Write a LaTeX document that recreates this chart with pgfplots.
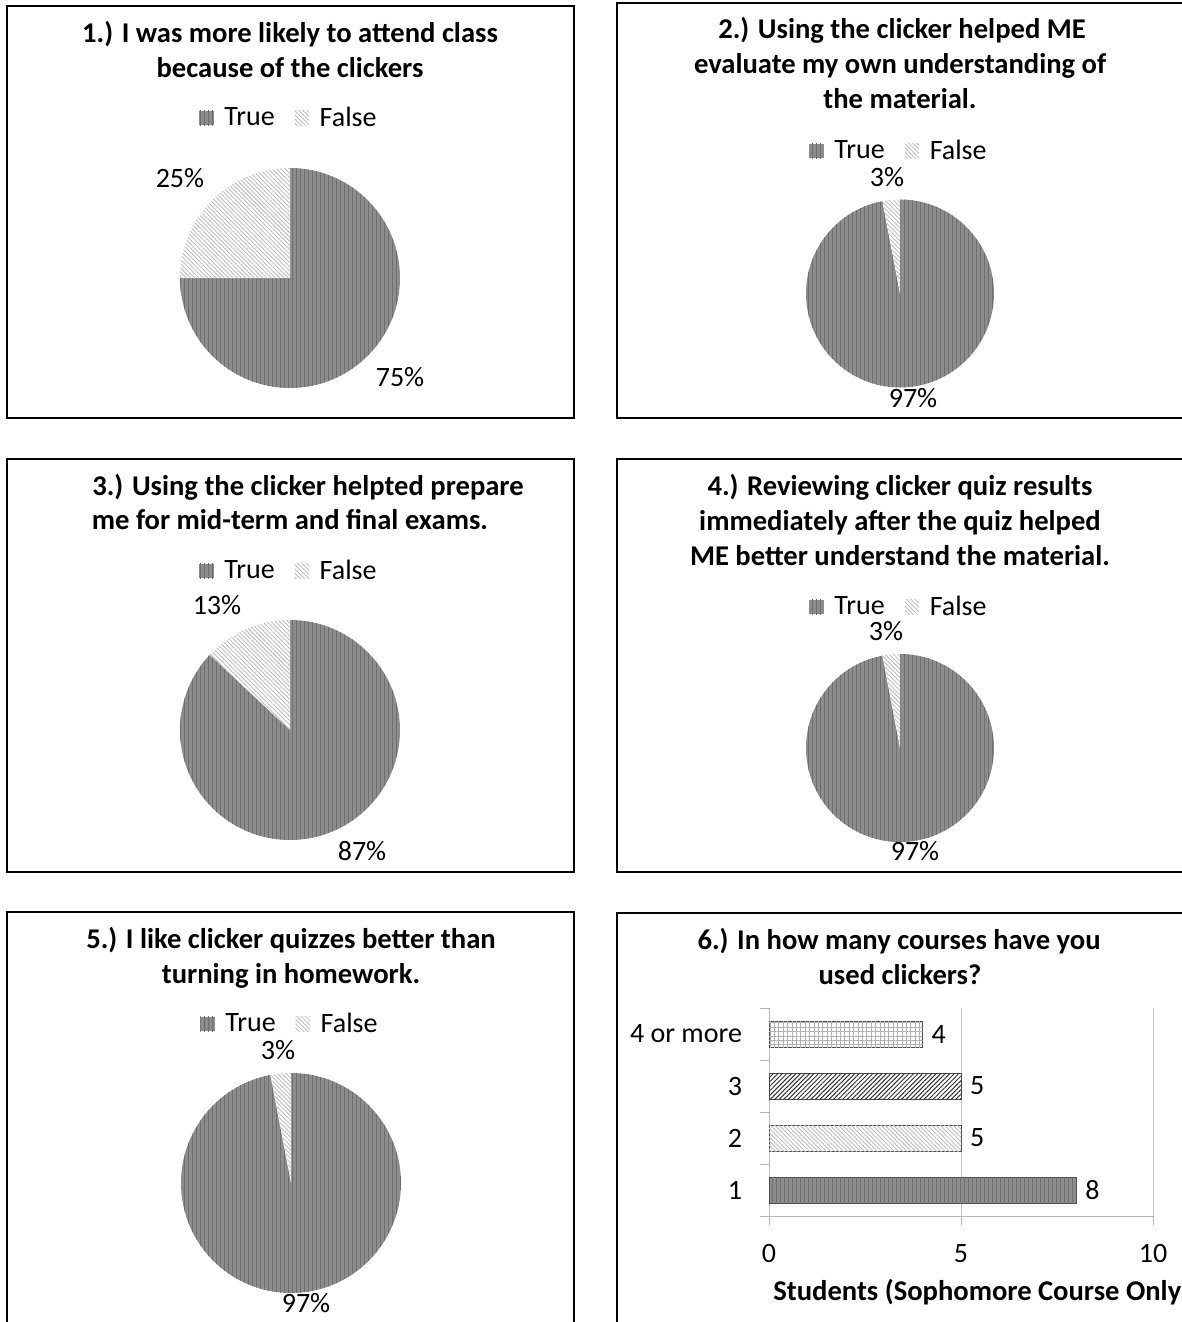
\documentclass[border=0pt]{standalone}
\usepackage{fontspec}
\setmainfont{Carlito}
\usepackage{pgfplots}
\pgfplotsset{compat=1.18}
\usetikzlibrary{patterns.meta}
\definecolor{truefill}{gray}{0.55}
\definecolor{truestripe}{gray}{0.43}
\definecolor{baredge}{gray}{0.3}
\tikzset{
 truesty/.style={fill=truefill, postaction={draw=none, pattern={Lines[angle=90,distance=2pt,line width=0.5pt]}, pattern color=truestripe}},
 falsesty/.style={fill=white, postaction={draw=none, pattern={Lines[angle=-45,distance=1.5pt,line width=0.45pt]}, pattern color=gray!50}},
 frame/.style={line width=1.1pt, black},
 ttl/.style={font=\fontsize{14.3}{17}\selectfont\bfseries, inner sep=0pt, text height=10pt, text depth=3pt},
 lbl/.style={font=\fontsize{14}{16}\selectfont, inner sep=0pt, text height=10pt, text depth=3pt},
}
% #1 cx, #2 cy (pt, y negative), #3 radius (pt), #4 diameter (pt), #5 true %, #6 false %, #7 legend y (axis description)
\newcommand\pieaxis[7]{%
\begin{axis}[hide axis, scale only axis, width=#4pt, height=#4pt,
  xmin=-1, xmax=1, ymin=-1, ymax=1, at={(#1pt,#2pt)}, anchor=center, clip=false,
  legend columns=2,
  legend style={at={(axis description cs:0.5,#7)}, anchor=center, draw=none, fill=none,
    font=\fontsize{14}{16}\selectfont, /tikz/every even column/.append style={column sep=8pt}},
  ]
  \addlegendimage{legend image code/.code={\path[draw=none,truesty] (0pt,-3.6pt) rectangle (7.2pt,3.6pt); \path[draw=none,fill=none] (0pt,0pt) -- (10.5pt,0pt);}}
  \addlegendentry{True}
  \addlegendimage{legend image code/.code={\path[draw=none,falsesty] (0pt,-3.6pt) rectangle (7.2pt,3.6pt); \path[draw=none,fill=none] (0pt,0pt) -- (10.5pt,0pt);}}
  \addlegendentry{False}
  \fill[truesty] (axis cs:0,0) -- ++(90:#3pt) arc[start angle=90, end angle={90-3.6*#5}, radius=#3pt] -- cycle;
  \fill[falsesty] (axis cs:0,0) -- ++(90:#3pt) arc[start angle=90, end angle={90+3.6*#6}, radius=#3pt] -- cycle;
\end{axis}}
\begin{document}
\begin{tikzpicture}
\path[use as bounding box] (0,0) rectangle (591pt,-661pt);
% frames
\draw[frame] (3.5pt,-3pt) rectangle (287pt,-209pt);
\draw[frame] (308.5pt,-1.5pt) rectangle (596pt,-209pt);
\draw[frame] (3.5pt,-229.5pt) rectangle (287pt,-436pt);
\draw[frame] (308.5pt,-229.5pt) rectangle (596pt,-436pt);
\draw[frame] (3.5pt,-456pt) rectangle (287pt,-666pt);
\draw[frame] (308.5pt,-456.5pt) rectangle (596pt,-666pt);

% Panel 1
\node[ttl] at (145pt,-18pt) {1.) I was more likely to attend class};
\node[ttl] at (145pt,-35.5pt) {because of the clickers};
\pieaxis{145}{-139}{55}{110}{75}{25}{1.227}
\node[lbl] at (90pt,-90pt) {25\%};
\node[lbl] at (200pt,-189.5pt) {75\%};

% Panel 2
\node[ttl] at (451pt,-16pt) {2.) Using the clicker helped ME};
\node[ttl] at (450pt,-33.5pt) {evaluate my own understanding of};
\node[ttl] at (450pt,-51pt) {the material.};
\pieaxis{450}{-146.75}{47}{94}{97}{3}{1.258}
\node[lbl] at (443.5pt,-89.5pt) {3\%};
\node[lbl] at (456.5pt,-200pt) {97\%};

% Panel 3
\node[ttl] at (154pt,-244pt) {3.) Using the clicker helpted prepare};
\node[ttl] at (145pt,-261pt) {me for mid-term and final exams.};
\pieaxis{145}{-365}{55}{110}{87}{13}{1.223}
\node[lbl] at (108.5pt,-303.5pt) {13\%};
\node[lbl] at (181pt,-426.5pt) {87\%};

% Panel 4
\node[ttl] at (450pt,-244pt) {4.) Reviewing clicker quiz results};
\node[ttl] at (450pt,-261.5pt) {immediately after the quiz helped};
\node[ttl] at (450pt,-279pt) {ME better understand the material.};
\pieaxis{450}{-374}{47}{94}{97}{3}{1.250}
\node[lbl] at (443pt,-316.5pt) {3\%};
\node[lbl] at (457.5pt,-426.5pt) {97\%};

% Panel 5
\node[ttl] at (145.5pt,-470.5pt) {5.) I like clicker quizzes better than};
\node[ttl] at (145.5pt,-488pt) {turning in homework.};
\pieaxis{145.5}{-591.5}{55}{110}{97}{3}{1.223}
\node[lbl] at (139pt,-526pt) {3\%};
\node[lbl] at (153pt,-652.5pt) {97\%};

% Panel 6
\node[ttl] at (449.5pt,-471pt) {6.) In how many courses have you};
\node[ttl] at (450pt,-488.5pt) {used clickers?};
\begin{axis}[at={(384.5pt,-608pt)}, anchor=south west, scale only axis,
  width=192pt, height=104pt, xmin=0, xmax=10, ymin=0.5, ymax=4.5,
  axis x line*=bottom, axis y line*=left, axis line style={-, draw=gray!55},
  xtick={0,5,10}, ytick={0.5,1.5,2.5,3.5,4.5}, yticklabels={{},{},{},{},{}},
  extra y ticks={1,2,3,4}, extra y tick labels={1,2,3,4 or more},
  extra y tick style={major tick length=0pt, yticklabel style={xshift=-10pt}},
  tick align=outside, major tick length=4.5pt,
  tick style={gray!55},
  xmajorgrids, major x grid style={gray!45},
  ticklabel style={font=\fontsize{14}{16}\selectfont},
  /pgf/number format/assume math mode=true,
  xticklabel style={yshift=-6pt},
  xlabel={Students (Sophomore Course Only},
  xlabel style={at={(axis description cs:0,0)}, anchor=west, xshift=2pt, yshift=-38pt,
     font=\fontsize{14.3}{17}\selectfont\bfseries, inner sep=0pt},
  clip=false,
  point meta=x,
  nodes near coords,
  every node near coord/.append style={font=\fontsize{14}{16}\selectfont, anchor=west, xshift=1pt},
  ]
  \addplot[xbar, bar width=13pt, bar shift=0pt, draw=baredge, truesty] coordinates {(8,1)};
  \addplot[xbar, bar width=13pt, bar shift=0pt, draw=baredge, falsesty] coordinates {(5,2)};
  \addplot[xbar, bar width=13pt, bar shift=0pt, draw=baredge, fill=white,
     postaction={draw=none, pattern={Lines[angle=45,distance=1.6pt,line width=0.5pt]}, pattern color=gray!40!black}] coordinates {(5,3)};
  \addplot[xbar, bar width=13pt, bar shift=0pt, draw=baredge, fill=white,
     postaction={draw=none, pattern={Hatch[angle=0,distance=2.2pt,line width=0.4pt]}, pattern color=gray!60}] coordinates {(4,4)};
\end{axis}
\end{tikzpicture}
\end{document}
